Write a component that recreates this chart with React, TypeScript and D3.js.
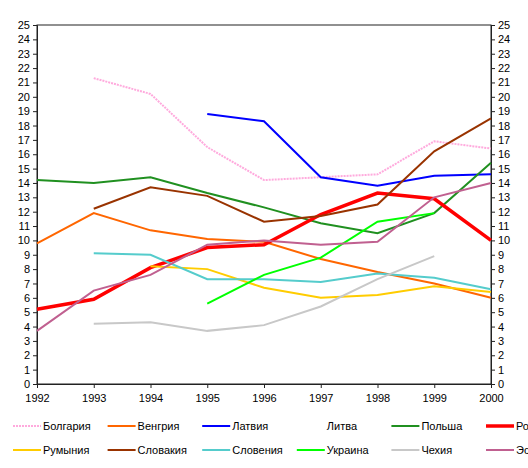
import React, { useEffect, useRef } from "react";
import * as d3 from "d3";

// years on the x axis
const years = [1992, 1993, 1994, 1995, 1996, 1997, 1998, 1999, 2000];
const yTicks = d3.range(0, 26);

// values per country, null = no data for that year
const bulgaria = [null, 21.3, 20.2, 16.5, 14.2, 14.4, 14.6, 16.9, 16.4];
const hungary = [9.8, 11.9, 10.7, 10.1, 9.9, 8.7, 7.8, 7.0, 6.0];
const latvia = [null, null, null, 18.8, 18.3, 14.4, 13.8, 14.5, 14.6];
const lithuania = [null, null, null, null, null, null, null, null, null];
const poland = [14.2, 14.0, 14.4, 13.3, 12.3, 11.2, 10.5, 11.9, 15.4];
const russia = [5.2, 5.9, 8.1, 9.5, 9.7, 11.8, 13.3, 12.9, 10.0];
const romania = [null, null, 8.2, 8.0, 6.7, 6.0, 6.2, 6.8, 6.4];
const slovakia = [null, 12.2, 13.7, 13.1, 11.3, 11.7, 12.5, 16.2, 18.5];
const slovenia = [null, 9.1, 9.0, 7.3, 7.3, 7.1, 7.7, 7.4, 6.6];
const ukraine = [null, null, null, 5.6, 7.6, 8.8, 11.3, 11.9, null];
const czechia = [null, 4.2, 4.3, 3.7, 4.1, 5.4, 7.3, 8.9, null];
const estonia = [3.7, 6.5, 7.6, 9.7, 10.0, 9.7, 9.9, 13.0, 14.0];

const series = [
  { name: "Болгария", values: bulgaria, color: "#ffaadd", width: 2, dash: "2,1" },
  { name: "Венгрия", values: hungary, color: "#ff6600", width: 2, dash: null },
  { name: "Латвия", values: latvia, color: "#0000ff", width: 2, dash: null },
  { name: "Литва", values: lithuania, color: "#ffffff", width: 2, dash: null },
  { name: "Польша", values: poland, color: "#209020", width: 2, dash: null },
  { name: "Россия", values: russia, color: "#ff0000", width: 3.5, dash: null },
  { name: "Румыния", values: romania, color: "#ffcc00", width: 2, dash: null },
  { name: "Словакия", values: slovakia, color: "#993300", width: 2, dash: null },
  { name: "Словения", values: slovenia, color: "#55cccc", width: 2, dash: null },
  { name: "Украина", values: ukraine, color: "#00ff00", width: 2, dash: null },
  { name: "Чехия", values: czechia, color: "#c8c8c8", width: 2, dash: null },
  { name: "Эстония", values: estonia, color: "#c06090", width: 2, dash: null },
];

const App: React.FC = () => {
  const ref = useRef<SVGSVGElement | null>(null);

  useEffect(() => {
    const svg = d3.select(ref.current);
    svg.selectAll("*").remove();

    const width = 528,
      height = 468,
      margin = { top: 25, right: 37, bottom: 84, left: 37 };
    const font = "Arial, 'Liberation Sans', sans-serif";

    const x = d3
      .scaleLinear()
      .domain([1992, 2000])
      .range([margin.left, width - margin.right]);
    const y = d3
      .scaleLinear()
      .domain([0, 25])
      .range([height - margin.bottom, margin.top]);

    // frame
    svg
      .append("rect")
      .attr("x", margin.left)
      .attr("y", margin.top)
      .attr("width", width - margin.left - margin.right)
      .attr("height", height - margin.top - margin.bottom)
      .attr("fill", "none")
      .attr("stroke", "#222");

    const styleAxis = (g: any) => {
      g.select(".domain").attr("stroke", "#222");
      g.selectAll(".tick line").attr("stroke", "#222");
      g.selectAll(".tick text")
        .attr("font-family", font)
        .attr("font-size", 11)
        .attr("fill", "#000");
    };

    svg
      .append("g")
      .attr("transform", `translate(0,${height - margin.bottom})`)
      .call(
        d3
          .axisBottom(x)
          .tickValues(years)
          .tickFormat(d3.format("d"))
          .tickSize(4)
          .tickPadding(6)
      )
      .call(styleAxis);

    svg
      .append("g")
      .attr("transform", `translate(${margin.left},0)`)
      .call(d3.axisLeft(y).tickValues(yTicks).tickSize(4).tickPadding(3))
      .call(styleAxis);

    svg
      .append("g")
      .attr("transform", `translate(${width - margin.right},0)`)
      .call(d3.axisRight(y).tickValues(yTicks).tickSize(4).tickPadding(3))
      .call(styleAxis);

    const line = d3
      .line<number | null>()
      .defined((d) => d !== null)
      .x((_, i) => x(years[i]))
      .y((d) => y(d as number));

    svg
      .append("g")
      .selectAll("path")
      .data(series)
      .enter()
      .append("path")
      .attr("d", (s) => line(s.values))
      .attr("fill", "none")
      .attr("stroke", (s) => s.color)
      .attr("stroke-width", (s) => s.width)
      .attr("stroke-dasharray", (s) => s.dash);

    // legend, 6 columns by 2 rows, last column cut by the edge
    const legend = svg
      .append("g")
      .selectAll("g")
      .data(series)
      .enter()
      .append("g")
      .attr(
        "transform",
        (_, i) => `translate(${13 + (i % 6) * 94.6},${426 + Math.floor(i / 6) * 24})`
      );

    legend
      .append("line")
      .attr("x1", 0)
      .attr("x2", 28)
      .attr("stroke", (s) => s.color)
      .attr("stroke-width", (s) => s.width)
      .attr("stroke-dasharray", (s) => s.dash);

    legend
      .append("text")
      .attr("x", 30)
      .attr("dy", "0.35em")
      .attr("font-family", font)
      .attr("font-size", 11)
      .text((s) => s.name);
  }, []);

  return (
    <svg
      ref={ref}
      width={528}
      height={468}
      style={{ position: "absolute", left: 0, top: 0, background: "#fff" }}
    ></svg>
  );
};

export default App;
